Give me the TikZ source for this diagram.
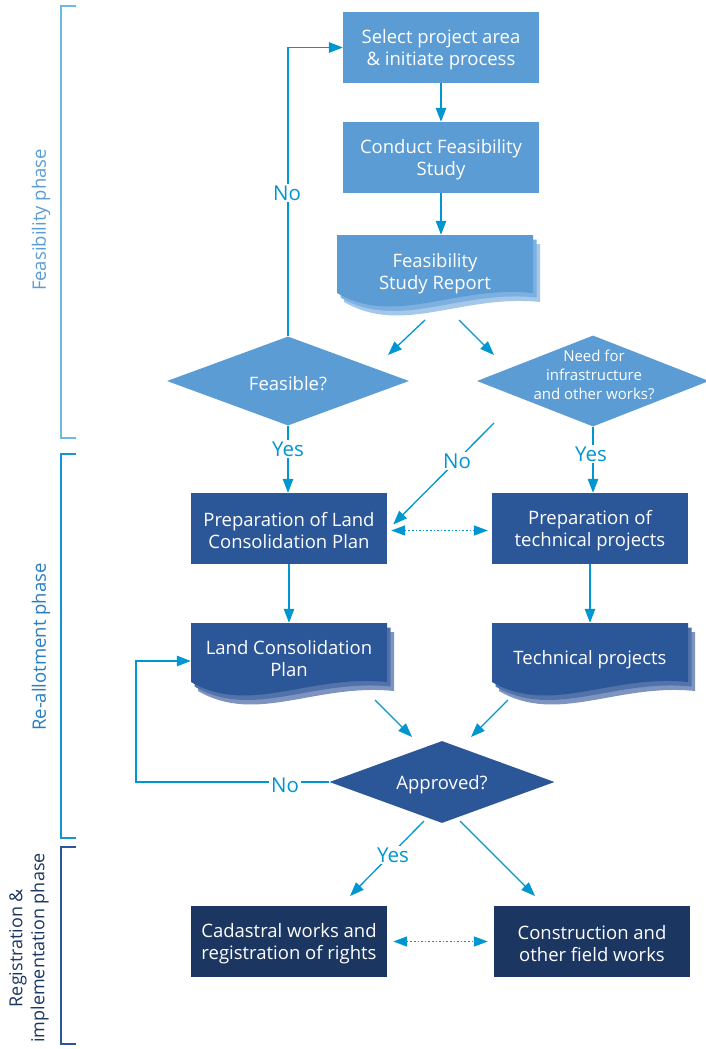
\documentclass[tikz,border=0pt]{standalone}
\usepackage{fontspec}
\setmainfont{Open Sans}
\usetikzlibrary{arrows.meta,shapes.geometric}
\definecolor{lightbox}{RGB}{91,156,213}
\definecolor{midbox}{RGB}{43,86,152}
\definecolor{darkbox}{RGB}{28,54,98}
\definecolor{arr}{RGB}{0,150,210}
\definecolor{lsh1}{RGB}{125,176,224}
\definecolor{lsh2}{RGB}{165,200,234}
\definecolor{dsh1}{RGB}{82,114,170}
\definecolor{dsh2}{RGB}{125,148,192}
\definecolor{brka}{RGB}{110,185,225}
\definecolor{txta}{RGB}{91,156,213}
\definecolor{brkb}{RGB}{20,150,210}
\definecolor{txtb}{RGB}{40,125,195}
\definecolor{brkc}{RGB}{43,86,152}
\definecolor{txtc}{RGB}{28,54,98}
\newcommand\docfill[5]{\fill[#5] (#1,#2) -- (#1+#3,#2) -- (#1+#3,#4) .. controls (#1+0.6*#3,#4-8) and (#1+0.3*#3,#4+34) .. (#1,#4) -- cycle;}
\newcommand\docstack[7]{%
  \docfill{#1+7}{#2+9}{#3}{#4+9}{#5}
  \docfill{#1+3.5}{#2+4.5}{#3}{#4+4.5}{#6}
  \docfill{#1}{#2}{#3}{#4}{#7}}
\tikzset{
  boxtext/.style={text=white, align=center, font=\fontsize{18.5}{22}\selectfont, inner sep=0, yshift=-2.5pt},
  procbox/.style={text=white, align=center, font=\fontsize{18.5}{22}\selectfont, inner sep=0, rectangle, minimum width=196, minimum height=71},
  docbody/.style={rectangle, inner sep=0, minimum width=196},
  dia/.style={diamond, inner sep=0},
  conn/.style={draw=arr, line width=1.3pt, -{Triangle[length=14pt,width=10.5pt]}},
  dotconn/.style={draw=arr, line width=1.6pt, dotted, {Triangle[length=14pt,width=10pt]}-{Triangle[length=14pt,width=10pt]}},
  lbl/.style={text=arr, fill=white, inner sep=2pt, font=\fontsize{20.5}{22}\selectfont},
  phase/.style={rotate=90, align=center, font=\fontsize{18.5}{22}\selectfont},
  brk/.style={line width=1.6pt}
}
\begin{document}
\begin{tikzpicture}[x=1pt,y=-1pt]
\useasboundingbox (0,0) rectangle (705,1049);
% phase brackets
\draw[brk, brka] (76,6) -- (61,6) -- (61,438) -- (76,438);
\node[phase, text=txta] (ph1) at (41,220) {Feasibility phase};
\draw[brk, brkb] (76,454) -- (61,454) -- (61,838) -- (76,838);
\node[phase, text=txtb] (ph2) at (41,647) {Re-allotment phase};
\draw[brk, brkc] (76,847) -- (61,847) -- (61,1044) -- (76,1044);
\node[phase, text=txtc, font=\fontsize{18}{22}\selectfont] (ph3) at (29,948) {Registration \&\\implementation phase};

% boxes
\node[procbox, fill=lightbox] (sel) at (441,47.5) {};
\node[boxtext] (selt) at (sel) {Select project area\\\& initiate process};
\node[procbox, fill=lightbox] (cond) at (441,157.5) {};
\node[boxtext] (condt) at (cond) {Conduct Feasibility\\Study};
\docstack{337}{235}{196}{293}{lsh2}{lsh1}{lightbox}
\node[docbody, minimum height=58] (fsrb) at (435,264) {};
\node[boxtext] (fsr) at (435,271) {Feasibility\\Study Report};

\node[dia, fill=lightbox, minimum width=242, minimum height=89] (feas) at (288,381) {};
\node[boxtext] (feast) at (feas) {Feasible?};
\node[dia, fill=lightbox, minimum width=232, minimum height=91] (need) at (593,381) {};
\node[boxtext, font=\fontsize{15}{19}\selectfont] (needt) at (594,372) {Need for\\infrastructure\\and other works?};

\node[procbox, fill=midbox] (plcp) at (289,528.5) {};
\node[boxtext] (plcpt) at (plcp) {Preparation of Land\\Consolidation Plan};
\node[procbox, fill=midbox] (ptech) at (590,528.5) {};
\node[boxtext] (ptecht) at (ptech) {Preparation of\\technical projects};

\docstack{191}{623}{196}{682}{dsh2}{dsh1}{midbox}
\node[docbody, minimum height=59] (lcpb) at (289,652.5) {};
\node[boxtext] (lcp) at (289,656.5) {Land Consolidation\\Plan};
\docstack{492}{623}{196}{682}{dsh2}{dsh1}{midbox}
\node[docbody, minimum height=59] (techb) at (590,652.5) {};
\node[boxtext] (tech) at (590,657) {Technical projects};

\node[dia, fill=midbox, minimum width=225, minimum height=82] (appr) at (442,782) {};
\node[boxtext] (apprt) at (appr) {Approved?};

\node[procbox, fill=darkbox] (cad) at (289,941.5) {};
\node[boxtext] (cadt) at (cad) {Cadastral works and\\registration of rights};
\node[procbox, fill=darkbox] (cons) at (592,941.5) {};
\node[boxtext] (const) at (cons) {Construction and\\other field works};

% free connector ends
\coordinate (f1) at (425,320);
\coordinate (f2) at (388,355);
\coordinate (f3) at (459,320);
\coordinate (f4) at (494,355);
\coordinate (n0) at (494,423);
\coordinate (loop) at (136,661);
\coordinate (l1) at (375,700);
\coordinate (l2) at (412,737);
\coordinate (t1) at (508,700);
\coordinate (t2) at (471,737);
\coordinate (a1) at (424,821);
\coordinate (a2) at (350,896);
\coordinate (a3) at (460,821);
\coordinate (a4) at (535,896);

% connectors
\draw[conn] (sel) -- (cond);
\draw[conn] (cond) -- (cond |- fsrb.north);
\draw[conn] (f1) -- (f2);
\draw[conn] (f3) -- (f4);
\draw[conn] (feas.north) -- (feas.north |- sel.west) -- (sel.west);
\node[lbl] (no1) at (287,193) {No};
\draw[conn] (feas.south) -- (feas.south |- plcp.north);
\node[lbl] (yes1) at (288,449) {Yes};
\draw[conn] (n0) -- ([shift={(6pt,4pt)}]plcp.east);
\node[lbl] (no2) at (457,461) {No};
\draw[conn] (need.south) -- (need.south |- ptech.north);
\node[lbl] (yes2) at (591,454) {Yes};
\draw[dotconn] ([xshift=4pt,yshift=-2pt]plcp.east) -- ([xshift=-4pt,yshift=-2pt]ptech.west);
\draw[conn] (plcp) -- (plcp |- lcpb.north);
\draw[conn] (ptech) -- (ptech |- techb.north);
\draw[conn] (l1) -- (l2);
\draw[conn] (t1) -- (t2);
\draw[conn] (appr.west) -| (loop) -- ([yshift=-8.5pt]lcpb.west);
\node[lbl] (no3) at (285,785) {No};
\draw[conn] (a1) -- (a2);
\node[lbl] (yes3) at (393,855) {Yes};
\draw[conn] (a3) -- (a4);
\draw[dotconn] ([xshift=6pt]cad.east) -- ([xshift=-6pt]cons.west);
\end{tikzpicture}
\end{document}
